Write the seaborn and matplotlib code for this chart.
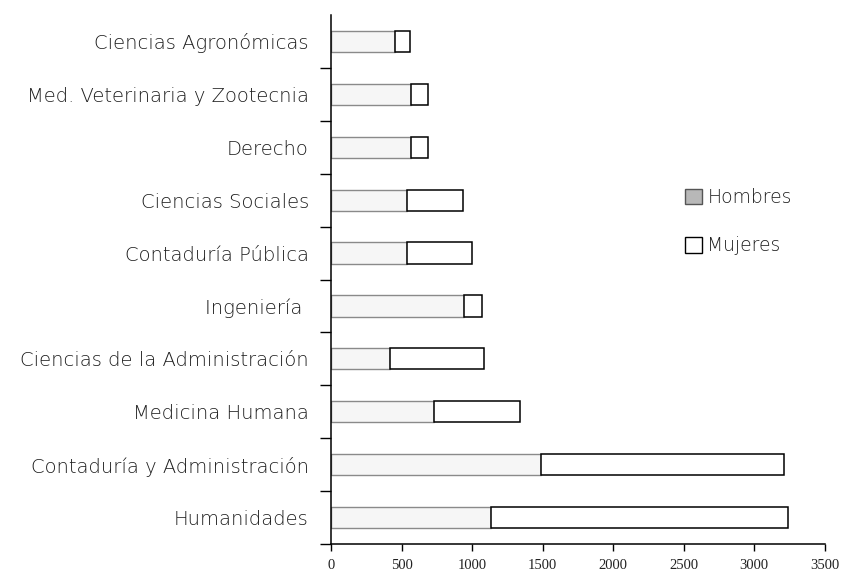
import numpy as np
import pandas as pd
import seaborn as sns
import matplotlib.pyplot as plt
from matplotlib.patches import Patch

# The data (top to bottom as shown)
carreras = ['Ciencias Agronómicas', 'Med. Veterinaria y Zootecnia', 'Derecho',
            'Ciencias Sociales', 'Contaduría Pública', 'Ingeniería ',
            'Ciencias de la Administración', 'Medicina Humana',
            'Contaduría y Administración', 'Humanidades']
hombres = [453, 567, 567, 538, 538, 940, 420, 728, 1490, 1135]
mujeres = [107, 120, 120, 397, 461, 128, 666, 609, 1724, 2105]
x_ticks = [0, 500, 1000, 1500, 2000, 2500, 3000, 3500]

df = pd.DataFrame({'carrera': carreras, 'Hombres': hombres, 'Mujeres': mujeres})

sns.set_style('white')
plt.rcParams['font.family'] = ['DejaVu Sans']

fig = plt.figure(figsize=(8.51, 5.71), dpi=100)
ax = fig.add_axes([0.389, 0.047, 0.58, 0.927])

# hombres
sns.barplot(data=df, y='carrera', x='Hombres', orient='h', ax=ax,
            color='#f6f6f6', edgecolor='#8a8a8a', linewidth=1.0, width=0.4,
            saturation=1)
# mujeres stacked on the right
ypos = np.arange(len(carreras))
ax.barh(ypos, df['Mujeres'], left=df['Hombres'], height=0.4,
        color='white', edgecolor='black', linewidth=1.1)

ax.set_xlim(0, 3500)
ax.set_ylim(len(carreras) - 0.5, -0.5)
ax.set_xlabel('')
ax.set_ylabel('')

ax.set_xticks(x_ticks)
ax.set_xticklabels([str(t) for t in x_ticks], family='Liberation Serif',
                   fontsize=10.5, color='#222222')
ax.set_yticks(ypos)
ax.set_yticklabels(carreras, fontsize=14, color='#1e1e1e', fontweight='light')
ax.set_yticks(np.arange(len(carreras)) + 0.5, minor=True)

ax.tick_params(axis='y', which='major', length=0, pad=16)
ax.tick_params(axis='y', which='minor', left=True, length=8, width=1, color='black')
ax.tick_params(axis='x', which='major', bottom=True, length=5, width=1,
               color='black', pad=6)

sns.despine(ax=ax)
for s in ['left', 'bottom']:
    ax.spines[s].set_color('black')
    ax.spines[s].set_linewidth(1.1)

handles = [Patch(facecolor='#b8b8b8', edgecolor='#555555', label='Hombres'),
           Patch(facecolor='white', edgecolor='black', label='Mujeres')]
fig.legend(handles=handles, loc='upper left', bbox_to_anchor=(0.785, 0.70),
           frameon=False, handlelength=0.9, handleheight=0.9, handletextpad=0.3,
           labelspacing=1.55, labelcolor='#1e1e1e',
           prop={'weight': 'light', 'size': 13.5})

plt.savefig('out.png', dpi=100)
